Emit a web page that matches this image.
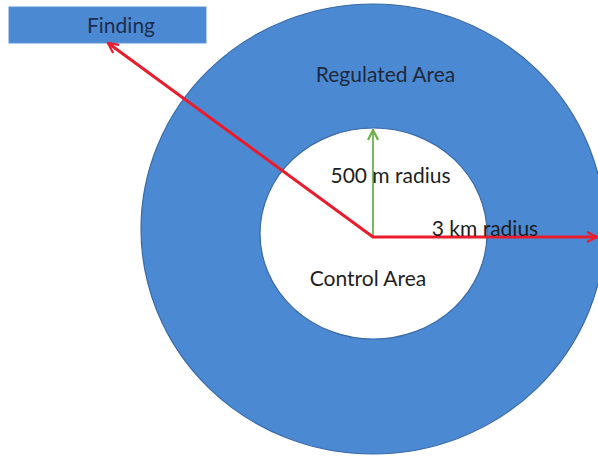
<!DOCTYPE html>
<html>
<head>
<meta charset="utf-8">
<script src="https://cdn.jsdelivr.net/npm/d3@7"></script>
<style>
  body { margin: 0; background: #fff; }
  text { font-family: Lato, "Open Sans", sans-serif; }
</style>
</head>
<body>
<div id="diagram"></div>
<script>
// zones, from outer to inner
const zoneNames = ['Regulated Area', 'Control Area'];
const zoneRadiusLabels = ['3 km radius', '500 m radius'];
const findingLabel = 'Finding';

const width = 598;
const height = 457;
const fontSize = 21;

const svg = d3
  .select('#diagram')
  .append('svg')
  .attr('width', width)
  .attr('height', height);

// arrow heads
const defs = svg.append('defs');
function addMarker(id, color) {
  defs
    .append('marker')
    .attr('id', id)
    .attr('viewBox', '0 0 12 12')
    .attr('refX', 11)
    .attr('refY', 6)
    .attr('markerWidth', 12)
    .attr('markerHeight', 12)
    .attr('markerUnits', 'userSpaceOnUse')
    .attr('orient', 'auto')
    .append('path')
    .attr('d', 'M1,1 L11,6 L1,11')
    .attr('fill', 'none')
    .attr('stroke', color)
    .attr('stroke-width', 2.2);
}
addMarker('redHead', '#ea1c2c');
addMarker('greenHead', '#6cb04c');

// outer regulated area
svg
  .append('ellipse')
  .attr('cx', 373)
  .attr('cy', 229)
  .attr('rx', 232)
  .attr('ry', 225)
  .attr('fill', '#4c89d3')
  .attr('stroke', '#3a6aa6')
  .attr('stroke-width', 1.2);

// inner control area
svg
  .append('ellipse')
  .attr('cx', 373.5)
  .attr('cy', 233.5)
  .attr('rx', 113.5)
  .attr('ry', 105.5)
  .attr('fill', '#fff')
  .attr('stroke', '#3a6aa6')
  .attr('stroke-width', 1.2);

// finding box
svg
  .append('rect')
  .attr('x', 9)
  .attr('y', 7)
  .attr('width', 197)
  .attr('height', 36)
  .attr('fill', '#4c89d3')
  .attr('stroke', '#5a93d8')
  .attr('stroke-width', 1);
svg
  .append('text')
  .attr('x', 121)
  .attr('y', 33)
  .attr('text-anchor', 'middle')
  .attr('font-size', fontSize)
  .attr('fill', '#1c2d4f')
  .text(findingLabel);

// zone labels
svg
  .append('text')
  .attr('x', 385.5)
  .attr('y', 82)
  .attr('text-anchor', 'middle')
  .attr('font-size', fontSize)
  .attr('fill', '#1e2a3a')
  .text(zoneNames[0]);
svg
  .append('text')
  .attr('x', 368)
  .attr('y', 286)
  .attr('text-anchor', 'middle')
  .attr('font-size', fontSize)
  .attr('fill', '#1e1e1e')
  .text(zoneNames[1]);

// green radius arrow (500 m)
svg
  .append('line')
  .attr('x1', 373)
  .attr('y1', 237)
  .attr('x2', 373)
  .attr('y2', 130)
  .attr('stroke', '#6cb04c')
  .attr('stroke-width', 1.8)
  .attr('marker-end', 'url(#greenHead)');

// red arrows
svg
  .append('line')
  .attr('x1', 373)
  .attr('y1', 237)
  .attr('x2', 108)
  .attr('y2', 43)
  .attr('stroke', '#ea1c2c')
  .attr('stroke-width', 3)
  .attr('marker-end', 'url(#redHead)');
svg
  .append('line')
  .attr('x1', 372)
  .attr('y1', 237)
  .attr('x2', 597)
  .attr('y2', 237)
  .attr('stroke', '#ea1c2c')
  .attr('stroke-width', 3)
  .attr('marker-end', 'url(#redHead)');

// radius labels
svg
  .append('text')
  .attr('x', 390.5)
  .attr('y', 183)
  .attr('text-anchor', 'middle')
  .attr('font-size', fontSize)
  .attr('fill', '#1e1e1e')
  .text(zoneRadiusLabels[1]);
svg
  .append('text')
  .attr('x', 485)
  .attr('y', 236)
  .attr('text-anchor', 'middle')
  .attr('font-size', fontSize)
  .attr('fill', '#1e1e1e')
  .text(zoneRadiusLabels[0]);
</script>
</body>
</html>
